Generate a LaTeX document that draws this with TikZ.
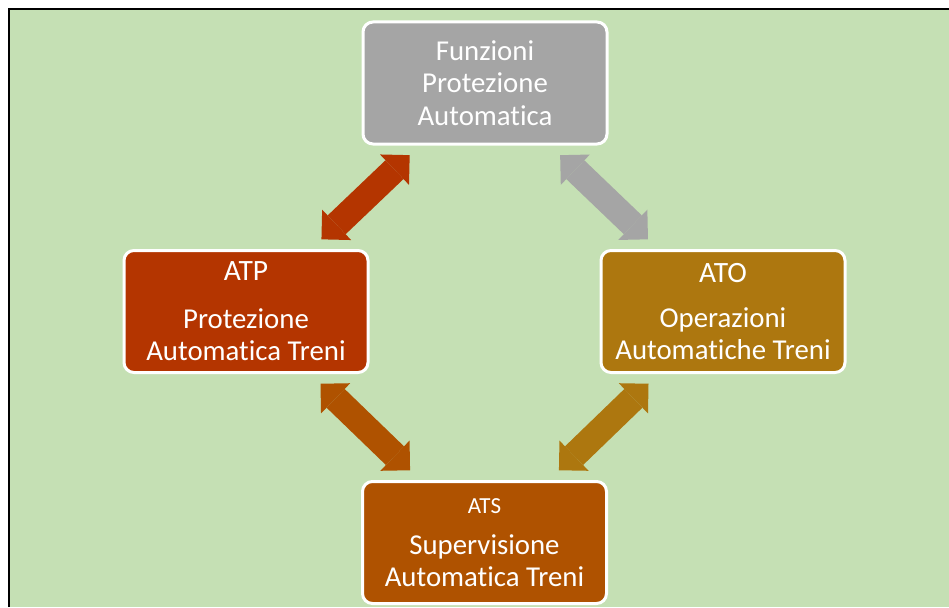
\documentclass[tikz,border=0pt]{standalone}
\usepackage{fontspec}
\setmainfont[Ligatures=NoCommon]{Carlito}
\usetikzlibrary{arrows.meta}
\definecolor{bggreen}{HTML}{C5E0B4}
\definecolor{fpgray}{HTML}{A5A5A5}
\definecolor{atpcol}{HTML}{B43500}
\definecolor{atscol}{HTML}{AF5200}
\definecolor{atocol}{HTML}{AD770F}
\begin{document}
\begin{tikzpicture}[x=1pt,y=-1pt,
  box/.style={draw=white, line width=3pt, rounded corners=10pt,
    minimum width=244pt, minimum height=122pt, inner sep=0pt,
    align=center, text=white, font=\fontsize{28.8}{32.5}\selectfont},
  link/.style={line width=26pt,
    {Triangle[width=42pt,length=21pt,line width=0pt]}-{Triangle[width=42pt,length=21pt,line width=0pt]},
    shorten <=14pt, shorten >=14pt}]
\useasboundingbox (0,0) rectangle (949,607);
\fill[white] (0,0) rectangle (949,607);
\fill[bggreen] (8.5,9.5) rectangle (949,607);
\draw[line width=2pt] (8.5,607) -- (8.5,9.5) -- (949,9.5);

\node[box, fill=fpgray] (fpa) at (485,83) {Funzioni\\Protezione\\Automatica};
\node[box, fill=atpcol] (atp) at (246,311.5) {{\fontsize{29.5}{32.5}\selectfont ATP}\\[15pt]Protezione\\Automatica Treni};
\node[box, fill=atocol] (ato) at (723,311.5) {{\fontsize{29.5}{32.5}\selectfont ATO}\\[12.5pt]Operazioni\\Automatiche Treni};
\node[box, fill=atscol] (ats) at (484.5,542.5) {{\fontsize{23}{32.5}\selectfont ATS}\\[8.5pt]Supervisione\\Automatica Treni};

\draw[link, atpcol] (atp) -- (fpa);
\draw[link, fpgray] (fpa) -- (ato);
\draw[link, atscol] (atp) -- (ats);
\draw[link, atocol] (ato) -- (ats);
\end{tikzpicture}
\end{document}
